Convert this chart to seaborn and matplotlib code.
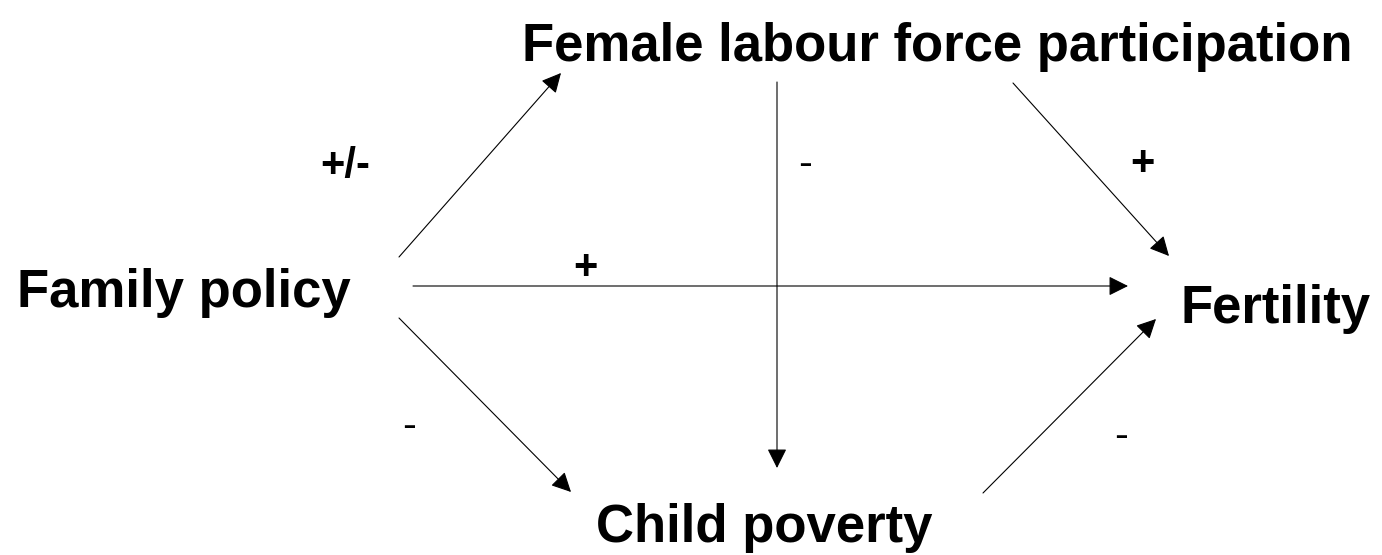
import matplotlib
matplotlib.use("Agg")
import matplotlib.pyplot as plt
import seaborn as sns

# nodes of the diagram (pixel space of the original picture)
node_names = ["Female labour force participation", "Family policy", "Fertility", "Child poverty"]
node_x = [937, 184, 1276, 764]
node_y = [61, 307, 323, 542]

# arrows: start and tip
arrow_x0 = [399, 777, 1013, 413, 399, 983]
arrow_y0 = [257, 82, 83, 286, 318, 493]
arrow_x1 = [561, 777, 1169, 1128, 571, 1156]
arrow_y1 = [73, 468, 256, 286, 492, 319]

# signs on the arrows
sign_text = ["+/-", "-", "+", "+", "-", "-"]
sign_x = [345, 805, 1142, 585, 409, 1121]
sign_y = [161, 160, 160, 263, 422, 432]
sign_bold = [True, False, True, True, False, False]

sns.set_theme(style="white")
plt.rcParams["font.family"] = ["Liberation Sans", "DejaVu Sans"]

fig = plt.figure(figsize=(13.82, 5.55), dpi=100)
ax = fig.add_axes([0, 0, 1, 1])
ax.set_xlim(0, 1382)
ax.set_ylim(555, 0)
ax.axis("off")

# node labels
for name, x, y in zip(node_names, node_x, node_y):
    ax.text(x, y, name, ha="center", va="baseline", fontsize=38, fontweight="bold", color="black")

# arrows between nodes
for x0, y0, x1, y1 in zip(arrow_x0, arrow_y0, arrow_x1, arrow_y1):
    ax.annotate("", xy=(x1, y1), xytext=(x0, y0),
                arrowprops=dict(arrowstyle="-|>", mutation_scale=30, lw=0.8, color="black",
                                shrinkA=0, shrinkB=0))

# signs of the effects
for t, x, y, b in zip(sign_text, sign_x, sign_y, sign_bold):
    ax.text(x, y, t, ha="center", va="center_baseline", fontsize=30,
            fontweight="bold" if b else "normal", color="black")

fig.savefig("out.png", dpi=100, facecolor="white")
